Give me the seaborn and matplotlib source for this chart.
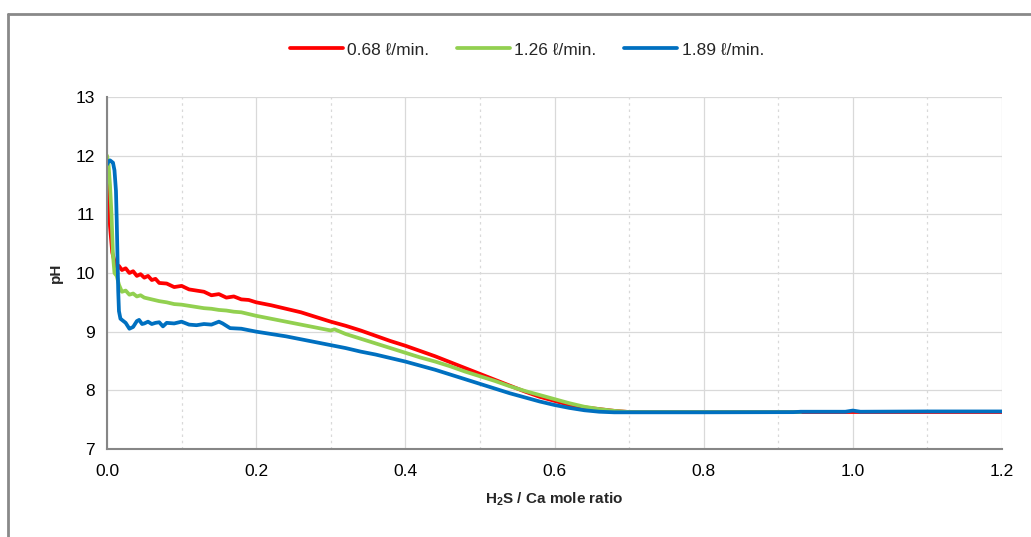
import matplotlib

matplotlib.use("Agg")
import matplotlib.pyplot as plt
import numpy as np
import pandas as pd
import seaborn as sns
from matplotlib.lines import Line2D
from matplotlib.ticker import MultipleLocator

# series labels and colours
labels = ["0.68 \u2113/min.", "1.26 \u2113/min.", "1.89 \u2113/min."]
colors = ["#FF0000", "#92D050", "#0070C0"]

# 0.68 l/min
red_x = [0, 0.002, 0.004, 0.007, 0.010, 0.013, 0.016, 0.020, 0.025, 0.030, 0.035, 0.040,
         0.045, 0.050, 0.055, 0.060, 0.065, 0.070, 0.080, 0.090, 0.100, 0.110, 0.120, 0.130,
         0.140, 0.150, 0.160, 0.170, 0.180, 0.190, 0.200, 0.220, 0.240, 0.260, 0.280, 0.300,
         0.320, 0.340, 0.360, 0.380, 0.400, 0.420, 0.440, 0.460, 0.480, 0.500, 0.520, 0.540,
         0.560, 0.580, 0.600, 0.620, 0.640, 0.660, 0.680, 0.700, 0.750, 0.800, 0.900, 1.000,
         1.100, 1.200]
red_y = [11.85, 11.3, 10.8, 10.35, 10.2, 10.1, 10.12, 10.05, 10.08, 10.0, 10.03, 9.95,
         9.98, 9.92, 9.95, 9.88, 9.9, 9.83, 9.82, 9.76, 9.78, 9.72, 9.7, 9.68,
         9.62, 9.64, 9.58, 9.6, 9.55, 9.54, 9.5, 9.45, 9.39, 9.33, 9.25, 9.17,
         9.1, 9.02, 8.93, 8.84, 8.76, 8.67, 8.58, 8.48, 8.38, 8.28, 8.18, 8.08,
         7.98, 7.89, 7.82, 7.75, 7.71, 7.68, 7.65, 7.63, 7.63, 7.63, 7.63, 7.63,
         7.63, 7.63]

# 1.26 l/min
green_x = [0, 0.002, 0.004, 0.006, 0.008, 0.010, 0.013, 0.016, 0.020, 0.025, 0.030, 0.035,
           0.040, 0.045, 0.050, 0.060, 0.070, 0.080, 0.090, 0.100, 0.110, 0.120, 0.130, 0.140,
           0.150, 0.160, 0.170, 0.180, 0.190, 0.200, 0.220, 0.240, 0.260, 0.280, 0.300, 0.305,
           0.320, 0.340, 0.360, 0.380, 0.400, 0.420, 0.440, 0.460, 0.480, 0.500, 0.520, 0.540,
           0.560, 0.580, 0.600, 0.620, 0.640, 0.660, 0.680, 0.700, 0.750, 0.800, 0.850, 0.930]
green_y = [12.0, 11.85, 11.5, 11.0, 10.3, 10.0, 9.95, 9.8, 9.68, 9.7, 9.63, 9.65,
           9.6, 9.62, 9.58, 9.55, 9.52, 9.5, 9.47, 9.46, 9.44, 9.42, 9.4, 9.39,
           9.37, 9.36, 9.34, 9.33, 9.3, 9.27, 9.22, 9.17, 9.12, 9.07, 9.02, 9.04,
           8.96, 8.88, 8.80, 8.72, 8.64, 8.56, 8.49, 8.41, 8.32, 8.24, 8.16, 8.07,
           7.99, 7.92, 7.85, 7.78, 7.72, 7.68, 7.65, 7.63, 7.63, 7.63, 7.63, 7.63]

# 1.89 l/min
blue_x = [0, 0.002, 0.004, 0.006, 0.008, 0.010, 0.012, 0.013, 0.014, 0.015, 0.016, 0.018,
          0.020, 0.025, 0.030, 0.035, 0.040, 0.043, 0.047, 0.050, 0.055, 0.060, 0.065, 0.070,
          0.075, 0.080, 0.090, 0.100, 0.110, 0.120, 0.130, 0.140, 0.150, 0.155, 0.165, 0.180,
          0.200, 0.220, 0.240, 0.260, 0.280, 0.300, 0.320, 0.340, 0.360, 0.380, 0.400, 0.420,
          0.440, 0.460, 0.480, 0.500, 0.520, 0.540, 0.560, 0.580, 0.600, 0.620, 0.640, 0.660,
          0.680, 0.700, 0.800, 0.920, 0.930, 0.990, 1.000, 1.010, 1.100, 1.200]
blue_y = [11.85, 11.9, 11.92, 11.9, 11.88, 11.75, 11.4, 10.9, 10.3, 9.7, 9.35, 9.22,
          9.2, 9.15, 9.05, 9.08, 9.18, 9.2, 9.13, 9.14, 9.17, 9.13, 9.15, 9.16,
          9.09, 9.15, 9.14, 9.17, 9.12, 9.11, 9.13, 9.12, 9.17, 9.14, 9.06, 9.05,
          9.0, 8.96, 8.92, 8.87, 8.82, 8.77, 8.72, 8.66, 8.61, 8.55, 8.49, 8.42,
          8.35, 8.27, 8.19, 8.11, 8.03, 7.95, 7.88, 7.81, 7.75, 7.7, 7.66, 7.635,
          7.625, 7.625, 7.625, 7.628, 7.635, 7.635, 7.655, 7.635, 7.64, 7.64]

x_ticks = [0.0, 0.2, 0.4, 0.6, 0.8, 1.0, 1.2]
y_ticks = [7, 8, 9, 10, 11, 12, 13]

frames = []
for lab, xs, ys in zip(labels, [red_x, green_x, blue_x], [red_y, green_y, blue_y]):
    frames.append(pd.DataFrame({"ratio": xs, "pH": ys, "flow": lab}))
df = pd.concat(frames, ignore_index=True)

sns.set_style("white")
plt.rcParams["font.family"] = ["Liberation Sans", "DejaVu Sans"]
plt.rcParams["mathtext.fontset"] = "custom"
plt.rcParams["mathtext.bf"] = "Liberation Sans:bold"
plt.rcParams["mathtext.rm"] = "Liberation Sans"
plt.rcParams["mathtext.default"] = "bf"

fig = plt.figure(figsize=(10.31, 5.37), dpi=100)
ax = fig.add_axes([0.1038, 0.1639, 0.8681, 0.6555])

sns.lineplot(data=df, x="ratio", y="pH", hue="flow", palette=dict(zip(labels, colors)),
             estimator=None, sort=False, linewidth=2.7, ax=ax, legend=False)

ax.set_xlim(0, 1.2)
ax.set_ylim(7, 13)
ax.set_xticks(x_ticks)
ax.set_xticklabels([f"{v:.1f}" for v in x_ticks])
ax.set_yticks(y_ticks)
ax.xaxis.set_minor_locator(MultipleLocator(0.1))
ax.grid(which="major", color="#D9D9D9", linewidth=0.9)
ax.grid(which="minor", axis="x", color="#D9D9D9", linewidth=0.9, linestyle=(0, (2, 3)))
ax.set_axisbelow(True)

for side in ["top", "right"]:
    ax.spines[side].set_visible(False)
for side in ["left", "bottom"]:
    ax.spines[side].set_color("#868686")
    ax.spines[side].set_linewidth(1.5)
ax.tick_params(axis="both", which="major", direction="out", length=5, width=1.2,
               color="#868686", labelsize=12.5, labelcolor="#000000", pad=4)
ax.tick_params(axis="x", which="minor", length=0)
ax.tick_params(axis="x", pad=6)

ax.set_xlabel("H$_2$S / Ca mole ratio", fontsize=11, fontweight="bold", labelpad=8)
ax.set_ylabel("pH", fontsize=11, fontweight="bold", labelpad=9)

handles = [Line2D([], [], color=c, linewidth=2.7) for c in colors]
fig.legend(handles, labels, loc="center", bbox_to_anchor=(0.511, 0.907), ncol=3,
           frameon=False, fontsize=12.5, handlelength=3.05, handletextpad=0.25,
           columnspacing=1.6)

# outer chart frame
fig.add_artist(Line2D([8 / 1031, 1.0], [1 - 14 / 537, 1 - 14 / 537],
                      transform=fig.transFigure, color="#898989", linewidth=2))
fig.add_artist(Line2D([8 / 1031, 8 / 1031], [0, 1 - 14 / 537],
                      transform=fig.transFigure, color="#898989", linewidth=2))

fig.savefig("out.png", dpi=100)
plt.close(fig)
